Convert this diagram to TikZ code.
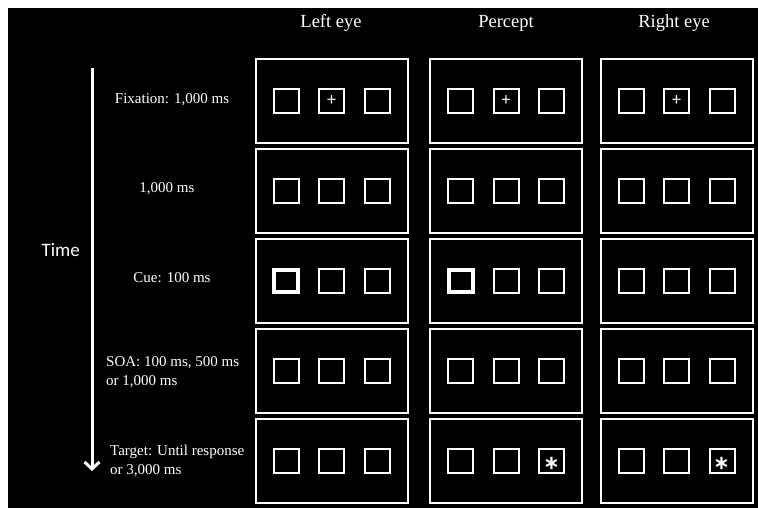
\documentclass[tikz,border=0pt]{standalone}
\usepackage{fontspec}
\setmainfont{Liberation Serif}
\newfontfamily\calib{Carlito}
\usetikzlibrary{arrows.meta}
\tikzset{
  panel/.style={draw=white, line width=2pt, minimum width=152pt, minimum height=84pt, inner sep=0pt},
  sq/.style={draw=white, line width=2pt, minimum width=25pt, minimum height=24pt, inner sep=0pt, text=white},
  cue/.style={sq, line width=4pt, minimum width=24pt, minimum height=22pt},
  head/.style={text=white, font=\fontsize{18.5}{22}\selectfont, anchor=base, inner sep=0pt},
  lab/.style={text=white, font=\fontsize{15}{19}\selectfont, inner sep=0pt},
  plussign/.style={text=white, font=\calib\fontsize{18}{18}\selectfont, inner sep=0pt},
  star/.style={text=white, font=\calib\bfseries\fontsize{38}{38}\selectfont, inner sep=0pt, yshift=-9.5pt},
}
\begin{document}
\begin{tikzpicture}[x=1pt,y=-1pt]
\useasboundingbox (0,0) rectangle (758,508);
\fill[white] (0,0) rectangle (758,508);
\fill[black] (8,8) rectangle (758,508);

% headings
\node[head] (hL) at (331,28) {Left eye};
\node[head] (hP) at (506,28) {Percept};
\node[head] (hR) at (674,28) {Right eye};

% time arrow
\node[text=white, font=\calib\fontsize{19}{22}\selectfont, anchor=base east, inner sep=0pt] (time) at (80,256) {Time};
\coordinate (ta) at (92,68);
\coordinate (tb) at (92,471);
\draw[white, line width=3pt, -{Straight Barb[length=7pt,width=15pt,line width=3pt]}] (ta) -- (tb);

% left labels
\node[lab, anchor=base] (l1) at (172,104) {Fixation: 1,000 ms};
\node[lab, anchor=base] (l2) at (167,193) {1,000 ms};
\node[lab, anchor=base] (l3) at (172,282) {Cue: 100 ms};
\node[lab, anchor=north west, align=left] (l4) at (106,356) {SOA: 100 ms, 500 ms\\or 1,000 ms};
\node[lab, anchor=north west, align=left] (l5) at (110,445) {Target: Until response\\or 3,000 ms};

% panels
\foreach \c/\x in {L/331.5,P/506,R/676.5}{
  \foreach \r/\y in {1/101,2/191,3/281,4/371,5/461}{
    \node[panel] (p\c\r) at (\x,\y) {};
    \node[sq] (p\c\r a) at (\x-45.5,\y) {};
    \node[sq] (p\c\r b) at (\x,\y) {};
    \node[sq] (p\c\r c) at (\x+45.5,\y) {};
  }
  \node[plussign] (plus\c) at (p\c1b) {+};
}
% cue (thick squares)
\node[cue] (cueL) at (pL3a) {};
\node[cue] (cueP) at (pP3a) {};
% targets
\node[star] (starP) at (pP5c) {*};
\node[star] (starR) at (pR5c) {*};
\end{tikzpicture}
\end{document}
